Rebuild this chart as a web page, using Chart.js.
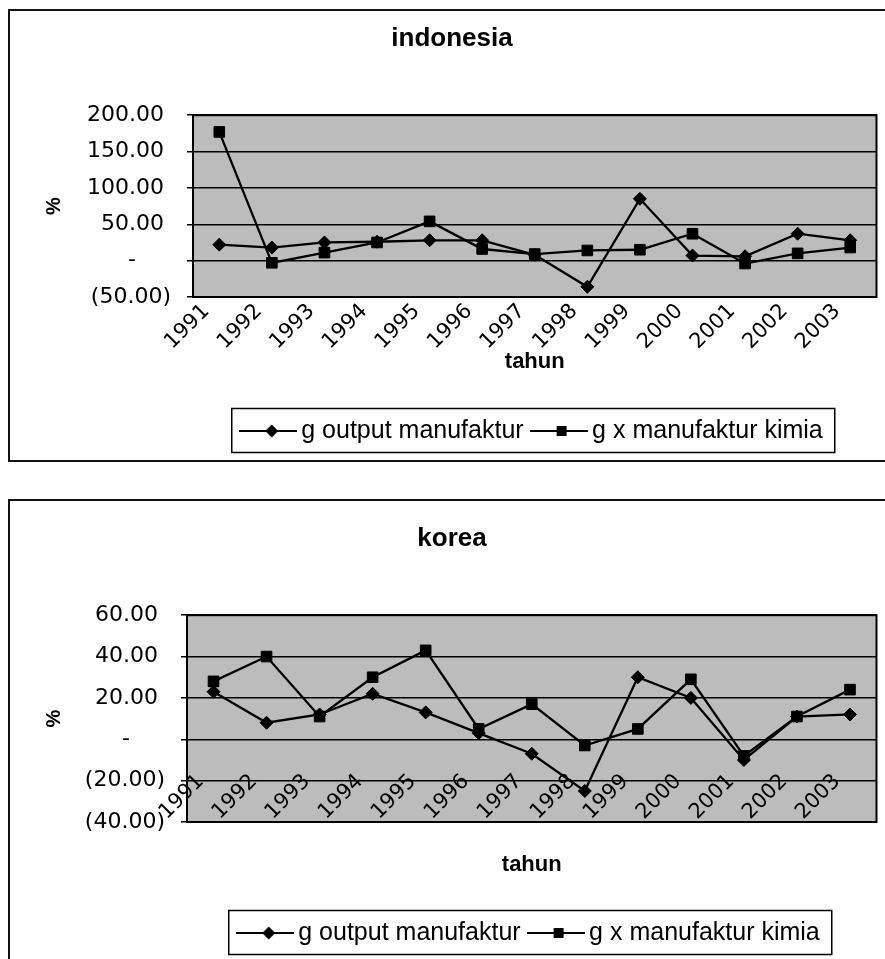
<!DOCTYPE html>
<html>
<head>
<meta charset="utf-8">
<script src="https://cdn.jsdelivr.net/npm/chart.js@4.4.1/dist/chart.umd.min.js"></script>
<style>
  html, body { margin: 0; padding: 0; background: #fff; width: 885px; height: 959px; overflow: hidden; }
  .frame { position: absolute; border: 2px solid #111; border-right: none; box-sizing: border-box; }
  .panel { position: absolute; left: 0; width: 885px; }
  canvas { display: block; }
</style>
</head>
<body>
<div class="frame" style="left:8px; top:9px; width:900px; height:453px;"></div>
<div class="frame" style="left:8px; top:499px; width:900px; height:480px;"></div>
<div class="panel" style="top:0; height:470px;"><canvas id="idn" width="885" height="470"></canvas></div>
<div class="panel" style="top:470px; height:489px;"><canvas id="kor" width="885" height="489"></canvas></div>

<script>
// ---- data -------------------------------------------------------------
const years = ['1991', '1992', '1993', '1994', '1995', '1996', '1997',
               '1998', '1999', '2000', '2001', '2002', '2003'];
const seriesNames = ['g output manufaktur', 'g x manufaktur kimia'];

// Indonesia: growth (%)
const idnOutput = [22, 18, 25, 26, 28, 28, 8, -36, 85, 7, 6, 37, 28];
const idnKimia  = [177, -3, 11, 25, 54, 16, 9, 14, 15, 37, -4, 10, 18];
const idnTickValues = [-50, 0, 50, 100, 150, 200];
// accounting style: positives padded by a trailing space, zero shown as a dash
const idnTickLabels = ['(50.00)', '-     ', '50.00 ', '100.00 ', '150.00 ', '200.00 '];

// Korea: growth (%)
const korOutput = [23, 8, 12, 22, 13, 3, -7, -25, 30, 20, -10, 11, 12];
const korKimia  = [28, 40, 11, 30, 43, 5, 17, -3, 5, 29, -8, 11, 24];
const korTickValues = [-40, -20, 0, 20, 40, 60];
const korTickLabels = ['(40.00)', '(20.00)', '-     ', '20.00 ', '40.00 ', '60.00 '];

// ---- helpers ----------------------------------------------------------
const SANS = '"Liberation Sans", Arial, sans-serif';
const WIDE = '"DejaVu Sans", Verdana, sans-serif';

// small line-with-marker glyph used as the legend key
function legendGlyph(shape) {
  const c = document.createElement('canvas');
  c.width = 58; c.height = 16;
  const g = c.getContext('2d');
  g.strokeStyle = '#000'; g.lineWidth = 2.2;
  g.beginPath(); g.moveTo(0, 8); g.lineTo(58, 8); g.stroke();
  g.fillStyle = '#000';
  if (shape === 'diamond') {
    g.beginPath(); g.moveTo(33, 1.5); g.lineTo(39.5, 8); g.lineTo(33, 14.5); g.lineTo(26.5, 8);
    g.closePath(); g.fill();
  } else {
    g.fillRect(27, 3, 10, 10);
  }
  return c;
}
const glyphs = [legendGlyph('diamond'), legendGlyph('square')];

// grey plot area with a black frame
const plotBackdrop = {
  id: 'plotBackdrop',
  beforeDraw(chart) {
    const { ctx, chartArea: a } = chart;
    ctx.save();
    ctx.fillStyle = '#bcbcbc';
    ctx.fillRect(a.left, a.top, a.right - a.left, a.bottom - a.top);
    ctx.restore();
  },
  beforeDatasetsDraw(chart) {
    const { ctx, chartArea: a } = chart;
    ctx.save();
    ctx.strokeStyle = '#000';
    ctx.lineWidth = 2;
    ctx.strokeRect(a.left, a.top, a.right - a.left, a.bottom - a.top);
    ctx.restore();
  }
};

// rectangle around the legend entries
const legendFrame = {
  id: 'legendFrame',
  afterDraw(chart) {
    const lg = chart.legend;
    const hb = lg.legendHitBoxes;
    if (!hb || !hb.length) return;
    const first = hb[0], last = hb[hb.length - 1];
    const x0 = first.left - 15, x1 = last.left + last.width + 12;
    const y0 = lg.top + 4, y1 = lg.bottom - 1;
    const ctx = chart.ctx;
    ctx.save();
    ctx.strokeStyle = '#000';
    ctx.lineWidth = 1.5;
    ctx.strokeRect(x0, y0, x1 - x0, y1 - y0);
    ctx.restore();
  }
};

function buildChart(id, cfg) {
  return new Chart(document.getElementById(id), {
    type: 'line',
    data: {
      labels: years,
      datasets: [
        {
          label: seriesNames[0], data: cfg.output,
          borderColor: '#000', backgroundColor: '#000', borderWidth: 2.3,
          pointStyle: 'rectRot', pointRadius: 6.5,
          pointBackgroundColor: '#000', pointBorderColor: '#000', pointBorderWidth: 1,
          tension: 0
        },
        {
          label: seriesNames[1], data: cfg.kimia,
          borderColor: '#000', backgroundColor: '#000', borderWidth: 2.3,
          pointStyle: 'rect', pointRadius: 7.5,
          pointBackgroundColor: '#000', pointBorderColor: '#000', pointBorderWidth: 1,
          tension: 0
        }
      ]
    },
    options: {
      responsive: false,
      animation: false,
      devicePixelRatio: 1,
      events: [],
      layout: { padding: { left: 26, right: 7, top: 10, bottom: cfg.padBottom } },
      plugins: {
        title: {
          display: true, text: cfg.title, color: '#000',
          font: { family: SANS, size: 26, weight: 'bold', lineHeight: 1.2 },
          padding: { top: cfg.titleTop, bottom: cfg.titleBottom }
        },
        legend: {
          position: 'bottom',
          fullSize: false,
          labels: {
            usePointStyle: true,
            pointStyleWidth: 42,
            padding: 14,
            color: '#000',
            font: { family: SANS, size: 25 },
            generateLabels(chart) {
              const items = Chart.defaults.plugins.legend.labels.generateLabels(chart);
              items.forEach((it, i) => { it.pointStyle = glyphs[i]; });
              return items;
            }
          }
        },
        tooltip: { enabled: false }
      },
      scales: {
        x: {
          offset: true,
          grid: { display: false, drawTicks: false },
          border: { display: false },
          ticks: {
            autoSkip: false, minRotation: 45, maxRotation: 45,
            mirror: cfg.xMirror, padding: cfg.xPad, labelOffset: cfg.xShift,
            color: '#000',
            font: { family: WIDE, size: 21 }
          },
          title: {
            display: true, text: 'tahun', color: '#000',
            font: { family: SANS, size: 22, weight: 'bold', lineHeight: 1.2 },
            padding: { top: 0, bottom: cfg.xTitleBottom }
          },
          afterFit(s) {
            s.height = cfg.xHeight;
            s.paddingLeft = 0;
            s.paddingRight = 0;
          }
        },
        y: {
          min: cfg.ticks[0], max: cfg.ticks[cfg.ticks.length - 1],
          afterBuildTicks(s) { s.ticks = cfg.ticks.map(v => ({ value: v })); },
          grid: { color: '#000', lineWidth: 1.5, tickLength: 6, drawTicks: true },
          border: { display: false },
          ticks: {
            padding: 16, color: '#000',
            font: { family: WIDE, size: 22 },
            callback: (v) => cfg.labels[cfg.ticks.indexOf(v)]
          },
          title: {
            display: true, text: '%', color: '#000',
            font: { family: SANS, size: 20, weight: 'bold', lineHeight: 1.2 },
            padding: { top: 16, bottom: 0 }
          },
          afterFit(s) { s.width = cfg.yWidth; }
        }
      }
    },
    plugins: [plotBackdrop, legendFrame]
  });
}

buildChart('idn', {
  title: 'indonesia', output: idnOutput, kimia: idnKimia,
  ticks: idnTickValues, labels: idnTickLabels,
  titleTop: 13, titleBottom: 61, padBottom: 16.5,
  xHeight: 107.5, xTitleBottom: 29.3, xMirror: false, xPad: 2, xShift: -13,
  yWidth: 167
});

buildChart('kor', {
  title: 'korea', output: korOutput, kimia: korKimia,
  ticks: korTickValues, labels: korTickLabels,
  titleTop: 43, titleBottom: 61, padBottom: 3.5,
  xHeight: 84.5, xTitleBottom: 28.3, xMirror: true, xPad: 35, xShift: 5,
  yWidth: 161
});
</script>
</body>
</html>
